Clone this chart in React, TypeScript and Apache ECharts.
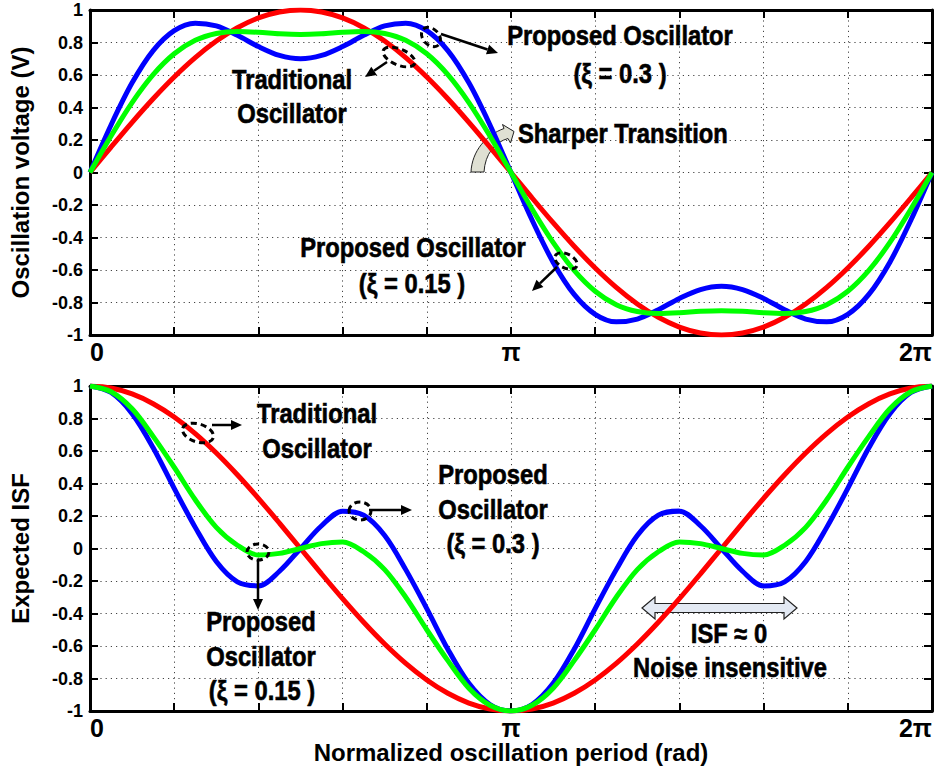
import React, { useEffect, useRef } from "react";
import * as echarts from "echarts";

// phase in degrees (0 .. 360, i.e. 0 .. 2π)
const phase = [0, 9, 18, 27, 36, 45, 54, 63, 72, 81, 90, 99, 108, 117, 126, 135, 144, 153, 162, 171, 180,
  189, 198, 207, 216, 225, 234, 243, 252, 261, 270, 279, 288, 297, 306, 315, 324, 333, 342, 351, 360];

// Top: oscillation voltage
const voltTraditional = [0, 0.1564, 0.309, 0.454, 0.5878, 0.7071, 0.809, 0.891, 0.9511, 0.9877, 1, 0.9877, 0.9511, 0.891, 0.809, 0.7071, 0.5878, 0.454, 0.309, 0.1564, 0,
  -0.1564, -0.309, -0.454, -0.5878, -0.7071, -0.809, -0.891, -0.9511, -0.9877, -1, -0.9877, -0.9511, -0.891, -0.809, -0.7071, -0.5878, -0.454, -0.309, -0.1564, 0];
const voltXi03 = [0, 0.2926, 0.5517, 0.7503, 0.8731, 0.9192, 0.9017, 0.8441, 0.7748, 0.7204, 0.7, 0.7204, 0.7748, 0.8441, 0.9017, 0.9192, 0.8731, 0.7503, 0.5517, 0.2926, 0,
  -0.2926, -0.5517, -0.7503, -0.8731, -0.9192, -0.9017, -0.8441, -0.7748, -0.7204, -0.7, -0.7204, -0.7748, -0.8441, -0.9017, -0.9192, -0.8731, -0.7503, -0.5517, -0.2926, 0];
const voltXi015 = [0, 0.2245, 0.4304, 0.6022, 0.7305, 0.8132, 0.8554, 0.8675, 0.8629, 0.854, 0.85, 0.854, 0.8629, 0.8675, 0.8554, 0.8132, 0.7305, 0.6022, 0.4304, 0.2245, 0,
  -0.2245, -0.4304, -0.6022, -0.7305, -0.8132, -0.8554, -0.8675, -0.8629, -0.854, -0.85, -0.854, -0.8629, -0.8675, -0.8554, -0.8132, -0.7305, -0.6022, -0.4304, -0.2245, 0];

// Bottom: expected ISF
const isfTraditional = [1, 0.9877, 0.9511, 0.891, 0.809, 0.7071, 0.5878, 0.454, 0.309, 0.1564, 0, -0.1564, -0.309, -0.454, -0.5878, -0.7071, -0.809, -0.891, -0.9511, -0.9877, -1,
  -0.9877, -0.9511, -0.891, -0.809, -0.7071, -0.5878, -0.454, -0.309, -0.1564, 0, 0.1564, 0.309, 0.454, 0.5878, 0.7071, 0.809, 0.891, 0.9511, 0.9877, 1];
const isfXi03 = [1, 0.96, 0.83, 0.62, 0.37, 0.13, -0.08, -0.205, -0.23, -0.14, 0, 0.14, 0.23, 0.205, 0.08, -0.13, -0.37, -0.62, -0.83, -0.96, -1,
  -0.96, -0.83, -0.62, -0.37, -0.13, 0.08, 0.205, 0.23, 0.14, 0, -0.14, -0.23, -0.205, -0.08, 0.13, 0.37, 0.62, 0.83, 0.96, 1];
const isfXi015 = [1, 0.965, 0.86, 0.69, 0.5, 0.3, 0.13, 0.02, -0.04, -0.03, 0, 0.03, 0.04, -0.02, -0.13, -0.3, -0.5, -0.69, -0.86, -0.965, -1,
  -0.965, -0.86, -0.69, -0.5, -0.3, -0.13, -0.02, 0.04, 0.03, 0, -0.03, -0.04, 0.02, 0.13, 0.3, 0.5, 0.69, 0.86, 0.965, 1];

const xTickLabels: Record<number, string> = { 0: "0", 180: "π", 360: "2π" };

const FONT = "'Liberation Sans', Arial, Helvetica, sans-serif";

const arrowPath =
  "M 471 172 C 472 151 486 135 504 128.5 L 502.5 124.5 L 514 131.5 L 510.5 143 L 508 138.5 C 495 142 485 154 484 172 Z";
let registered = false;

function arrow(x1: number, y1: number, x2: number, y2: number) {
  const a = Math.atan2(y2 - y1, x2 - x1);
  const head = 11;
  const w = 5;
  const bx = x2 - head * Math.cos(a);
  const by = y2 - head * Math.sin(a);
  const px = -Math.sin(a);
  const py = Math.cos(a);
  return [
    { type: "line", z: 100, shape: { x1, y1, x2: bx, y2: by }, style: { stroke: "#000", lineWidth: 2.5 } },
    {
      type: "polygon",
      z: 100,
      shape: { points: [[x2, y2], [bx + px * w, by + py * w], [bx - px * w, by - py * w]] },
      style: { fill: "#000" },
    },
  ];
}

function ellipse(cx: number, cy: number, rx: number, ry: number, rot: number) {
  return {
    type: "ellipse",
    z: 100,
    x: cx,
    y: cy,
    rotation: rot,
    shape: { cx: 0, cy: 0, rx, ry },
    style: { fill: "none", stroke: "#000", lineWidth: 3, lineDash: [6, 4] },
  };
}

function label(text: string, x: number, y: number, align = "center") {
  return {
    type: "text",
    z: 100,
    x,
    y,
    scaleX: 0.88,
    style: {
      text,
      fontSize: 27,
      fontWeight: "bold",
      fontFamily: FONT,
      fill: "#000",
      stroke: "#000",
      lineWidth: 0.6,
      align,
      verticalAlign: "middle",
    },
  };
}

export default function App() {
  const ref = useRef<HTMLDivElement>(null);
  useEffect(() => {
    if (!ref.current) return;
    if (!registered) {
      echarts.graphic.registerShape("sharpArrow", echarts.graphic.extendPath(arrowPath, {}));
      registered = true;
    }
    const chart = echarts.init(ref.current, undefined, { renderer: "svg" });

    const mainX = (gridIndex: number, withName: boolean) => ({
      type: "value",
      gridIndex,
      min: 0,
      max: 360,
      interval: 36,
      name: withName ? "Normalized oscillation period (rad)" : "",
      nameLocation: "middle",
      nameGap: 27,
      nameTextStyle: { fontSize: 24, fontWeight: "bold", fontFamily: FONT, color: "#000" },
      axisLine: { onZero: false, lineStyle: { color: "#000", width: 3 } },
      axisTick: { inside: true, length: 8, lineStyle: { color: "#000", width: 2 } },
      axisLabel: {
        formatter: (v: number) => xTickLabels[Math.round(v)] ?? "",
        fontSize: 25,
        fontWeight: "bold",
        fontFamily: FONT,
        color: "#000",
        margin: 4,
        showMinLabel: true,
        showMaxLabel: true,
        alignMinLabel: "left",
        alignMaxLabel: "right",
      },
      splitLine: { show: true, lineStyle: { color: "#444", type: [1.2, 4], width: 1 } },
    });
    const topX = (gridIndex: number) => ({
      type: "value",
      gridIndex,
      position: "top",
      min: 0,
      max: 360,
      interval: 36,
      axisLine: { onZero: false, lineStyle: { color: "#000", width: 3 } },
      axisTick: { inside: true, length: 8, lineStyle: { color: "#000", width: 2 } },
      axisLabel: { show: false },
      splitLine: { show: false },
    });
    const leftY = (gridIndex: number, name: string) => ({
      type: "value",
      gridIndex,
      min: -1,
      max: 1,
      interval: 0.2,
      name,
      nameLocation: "middle",
      nameGap: 58,
      nameTextStyle: { fontSize: 24, fontWeight: "bold", fontFamily: FONT, color: "#000" },
      axisLine: { onZero: false, lineStyle: { color: "#000", width: 3 } },
      axisTick: { inside: true, length: 8, lineStyle: { color: "#000", width: 2 } },
      axisLabel: {
        formatter: (v: number) => String(Math.round(v * 10) / 10),
        fontSize: 18,
        fontWeight: "bold",
        fontFamily: FONT,
        color: "#000",
        margin: 7,
      },
      splitLine: { show: true, lineStyle: { color: "#444", type: [1.2, 4], width: 1 } },
    });
    const rightY = (gridIndex: number) => ({
      type: "value",
      gridIndex,
      position: "right",
      min: -1,
      max: 1,
      interval: 0.2,
      axisLine: { onZero: false, lineStyle: { color: "#000", width: 3 } },
      axisTick: { inside: true, length: 8, lineStyle: { color: "#000", width: 2 } },
      axisLabel: { show: false },
      splitLine: { show: false },
    });

    const line = (name: string, data: number[], color: string, xi: number, yi: number) => ({
      name,
      type: "line",
      xAxisIndex: xi,
      yAxisIndex: yi,
      data: phase.map((p, i) => [p, data[i]]),
      showSymbol: false,
      smooth: 0.33,
      lineStyle: { color, width: 5 },
      itemStyle: { color },
      z: 3,
    });

    const graphics: any[] = [
      // top annotations
      label("Traditional", 292, 79),
      label("Oscillator", 292, 113),
      label("Proposed Oscillator", 620, 35),
      label("(ξ = 0.3 )", 620, 73),
      label("Sharper Transition", 518, 133, "left"),
      label("Proposed Oscillator", 413, 247),
      label("(ξ = 0.15 )", 412, 283),
      ellipse(431, 37, 11, 8, -0.8),
      ...arrow(441, 34, 498, 53),
      ellipse(399, 57, 17, 8, -0.4),
      ...arrow(387, 62, 365, 77),
      ellipse(566, 261, 12, 7, -0.45),
      ...arrow(557, 267, 532, 291),
      {
        type: "sharpArrow",
        z: 1,
        x: 0,
        y: 0,
        style: { fill: "#dfe0d3", stroke: "#222", lineWidth: 1 },
      },
      // bottom annotations
      label("Traditional", 317, 413),
      label("Oscillator", 317, 448),
      label("Proposed", 493, 474),
      label("Oscillator", 493, 509),
      label("(ξ = 0.3 )", 493, 543),
      label("Proposed", 261, 621),
      label("Oscillator", 261, 656),
      label("(ξ = 0.15 )", 262, 690),
      label("ISF ≈ 0", 729, 633),
      label("Noise insensitive", 730, 667),
      ellipse(198, 433, 16, 9, -0.3),
      ...arrow(212, 425, 242, 425),
      ellipse(258, 552, 11, 8, 0),
      ...arrow(258, 560, 258, 610),
      ellipse(360, 511, 11, 9, 0),
      ...arrow(369, 510, 412, 510),
      {
        type: "polygon",
        z: 1,
        shape: {
          points: [
            [642, 608], [655, 597], [655, 603.5], [784, 603.5], [784, 597], [797, 608],
            [784, 619], [784, 612.5], [655, 612.5], [655, 619],
          ],
        },
        style: { fill: "#e3e9f3", stroke: "#222", lineWidth: 1.2 },
      },
    ];

    chart.setOption({
      animation: false,
      backgroundColor: "#fff",
      grid: [
        { left: 89, top: 10, width: 843, height: 325 },
        { left: 89, top: 386, width: 843, height: 325 },
      ],
      xAxis: [mainX(0, false), topX(0), mainX(1, true), topX(1)],
      yAxis: [leftY(0, "Oscillation voltage (V)"), rightY(0), leftY(1, "Expected ISF"), rightY(1)],
      series: [
        line("Traditional Oscillator", voltTraditional, "#ff0000", 0, 0),
        line("Proposed Oscillator (ξ = 0.3)", voltXi03, "#0000ff", 0, 0),
        line("Proposed Oscillator (ξ = 0.15)", voltXi015, "#00ff00", 0, 0),
        line("Traditional Oscillator ISF", isfTraditional, "#ff0000", 2, 2),
        line("Proposed Oscillator ISF (ξ = 0.3)", isfXi03, "#0000ff", 2, 2),
        line("Proposed Oscillator ISF (ξ = 0.15)", isfXi015, "#00ff00", 2, 2),
      ],
      graphic: graphics,
    });
    return () => chart.dispose();
  }, []);
  return (
    <div
      ref={ref}
      style={{ position: "absolute", left: 0, top: 0, width: 940, height: 771, background: "#fff" }}
    />
  );
}
